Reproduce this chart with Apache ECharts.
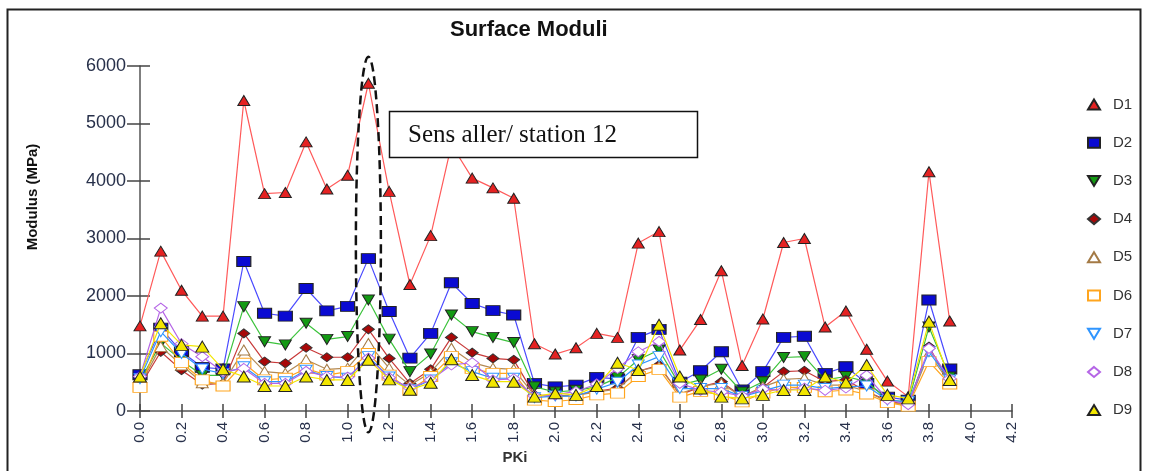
<!DOCTYPE html>
<html>
<head>
<meta charset="utf-8">
<script src="https://cdn.jsdelivr.net/npm/echarts@6/dist/echarts.min.js"></script>
<style>
html,body{margin:0;padding:0;background:#fff;}
#c{width:1151px;height:471px;}
</style>
</head>
<body>
<div id="c"></div>
<script>
// ---- data ----
const pki = [0.0,0.1,0.2,0.3,0.4,0.5,0.6,0.7,0.8,0.9,1.0,1.1,1.2,1.3,1.4,1.5,1.6,1.7,1.8,1.9,
             2.0,2.1,2.2,2.3,2.4,2.5,2.6,2.7,2.8,2.9,3.0,3.1,3.2,3.3,3.4,3.5,3.6,3.7,3.8,3.9];
const D1 = [1480,2780,2100,1650,1650,5400,3780,3800,4680,3860,4100,5700,3820,2200,3050,4630,4050,3880,3700,1170,
            990,1100,1350,1280,2920,3120,1060,1590,2440,790,1600,2930,3000,1460,1740,1075,520,250,4160,1565];
const D2 = [630,1440,1030,760,730,2600,1700,1650,2130,1740,1820,2650,1730,920,1350,2230,1870,1745,1670,480,
            420,450,585,560,1280,1420,500,700,1030,365,684,1280,1300,655,770,480,240,190,1930,730];
const D3 = [520,1180,880,620,620,1815,1205,1150,1525,1245,1295,1930,1250,685,990,1670,1380,1280,1190,420,
            330,360,420,580,890,1060,450,540,725,330,510,930,945,540,600,510,200,150,1460,590];
const D4 = [430,1030,710,460,480,1350,860,830,1100,935,935,1420,915,480,725,1280,1015,915,890,280,
            260,280,340,400,690,800,280,420,510,250,410,685,700,510,540,340,180,105,1120,480];
const D5 = [450,1120,800,490,480,1060,685,655,890,725,745,1175,745,450,670,1090,840,745,725,270,
            250,270,330,380,700,770,300,430,480,250,420,550,570,450,450,340,160,100,1000,490];
const D6 = [410,1300,840,540,435,830,540,570,740,625,685,1000,625,365,600,945,740,655,655,190,
            165,200,280,310,600,725,240,340,280,160,310,410,410,335,365,295,145,85,860,470];
const D7 = [560,1380,1000,730,650,770,510,510,710,600,570,945,590,370,540,840,685,570,570,230,
            260,260,380,500,800,945,390,390,390,250,350,450,450,390,420,435,190,160,1030,540];
const D8 = [600,1790,1170,945,680,740,480,480,690,600,590,920,580,400,540,800,840,540,560,260,
            280,340,470,740,1030,1210,480,360,330,260,380,360,400,360,400,620,200,110,1090,560];
const D9 = [600,1525,1150,1120,725,600,435,435,600,540,540,890,550,370,490,900,625,510,510,250,
            310,280,435,840,713,1500,600,390,250,220,280,365,365,600,495,800,280,220,1555,540];
const seriesNames = ['D1','D2','D3','D4','D5','D6','D7','D8','D9'];
const seriesValues = [D1,D2,D3,D4,D5,D6,D7,D8,D9];
const xTicks = {min:0, max:4.2, interval:0.2};
const yTicks = {min:0, max:6000, interval:1000};

// ---- styles ----
const DOWN = 'path://M0,0L12,0L6,10Z';
const styles = [
  {line:'#ff5a5a', fill:'#e52222', border:'#222', symbol:'triangle', size:[12,10]},
  {line:'#4a4aff', fill:'#0a0ad2', border:'#222', symbol:'rect', size:[14,10]},
  {line:'#3cc33c', fill:'#139a13', border:'#222', symbol:DOWN, size:[12,10]},
  {line:'#c83a3a', fill:'#a80808', border:'#333', symbol:'diamond', size:[12,9]},
  {line:'#b48a55', fill:'#ffffff', border:'#a47a45', symbol:'triangle', size:[12,10]},
  {line:'#ffa51e', fill:'#ffffff', border:'#ffa51e', symbol:'rect', size:[14,10]},
  {line:'#2f95ff', fill:'#ffffff', border:'#2f95ff', symbol:DOWN, size:[12,10]},
  {line:'#b565e6', fill:'#ffffff', border:'#b565e6', symbol:'diamond', size:[13,10]},
  {line:'#f2e600', fill:'#f2e600', border:'#222', symbol:'triangle', size:[13,11]}
];

const chart = echarts.init(document.getElementById('c'), null, {renderer:'canvas'});
const FONT = 'Liberation Sans, Arial, sans-serif';

const series = seriesNames.map((n,i)=>({
  name:n, type:'line', xAxisIndex:0, yAxisIndex:0,
  data: pki.map((x,j)=>[x, seriesValues[i][j]]),
  symbol: styles[i].symbol, symbolSize: styles[i].size, showAllSymbol:true,
  lineStyle:{color:styles[i].line, width:1.2},
  itemStyle:{color:styles[i].fill, borderColor:styles[i].border, borderWidth:1},
  emphasis:{disabled:true}, animation:false, z:2+i
}));

const legends = seriesNames.map((n,i)=>({
  data:[{name:n, icon:styles[i].symbol}],
  left:1087, top: 97 + i*38.2,
  orient:'vertical', itemWidth:12, itemHeight:10, padding:0,
  selectedMode:false,
  textStyle:{fontFamily:FONT, fontSize:15, color:'#333', padding:[0,0,0,8], lineHeight:10}
}));

const axisCommonX = {type:'value', min:xTicks.min, max:xTicks.max, interval:xTicks.interval, position:'bottom'};
const axisCommonY = {type:'value', min:yTicks.min, max:yTicks.max, interval:yTicks.interval, position:'left'};

chart.setOption({
  backgroundColor:'#fff',
  animation:false,
  title:{text:'Surface Moduli', left:445, top:14,
    textStyle:{fontFamily:FONT, fontSize:22, fontWeight:'bold', color:'#111'}},
  grid:{left:140, right:139, top:66, bottom:60, containLabel:false},
  legend: legends,
  xAxis:[
    Object.assign({}, axisCommonX, {
      axisLine:{show:true, lineStyle:{color:'#555', width:1.5}},
      axisTick:{show:true, length:7, lineStyle:{color:'#444', width:1.5}},
      axisLabel:{rotate:90, margin:11, fontFamily:FONT, fontSize:15, color:'#27304a',
        formatter:v=>v.toFixed(1)},
      splitLine:{show:false}
    }),
    Object.assign({}, axisCommonX, {
      axisLine:{show:false},
      axisTick:{show:true, inside:true, length:7, lineStyle:{color:'#444', width:1.5}},
      axisLabel:{show:false}, splitLine:{show:false}
    })
  ],
  yAxis:[
    Object.assign({}, axisCommonY, {
      axisLine:{show:true, lineStyle:{color:'#555', width:1.5}},
      axisTick:{show:true, length:13, lineStyle:{color:'#444', width:1.5}},
      axisLabel:{margin:14, fontFamily:FONT, fontSize:18, color:'#27304a',
        formatter:v=>String(Math.round(v))},
      splitLine:{show:false}
    }),
    Object.assign({}, axisCommonY, {
      axisLine:{show:false},
      axisTick:{show:true, inside:true, length:10, lineStyle:{color:'#444', width:1.5}},
      axisLabel:{show:false}, splitLine:{show:false}
    })
  ],
  series: series
});

// annotations positioned from the axis scale
const pTop = chart.convertToPixel({xAxisIndex:0, yAxisIndex:0}, [1.1, 6160]);
const pBot = chart.convertToPixel({xAxisIndex:0, yAxisIndex:0}, [1.1, -370]);
chart.setOption({
  graphic:[
    {type:'rect', shape:{x:7.5, y:9.5, width:1133, height:470}, style:{fill:'none', stroke:'#222', lineWidth:2}, silent:true, z:0},
    {type:'text', x:33, y:197, rotation:Math.PI/2,
      style:{text:'Modulus (MPa)', fontFamily:FONT, fontSize:15, fontWeight:'bold', fill:'#111', align:'center', verticalAlign:'middle'}},
    {type:'text', x:515, y:458,
      style:{text:'PKi', fontFamily:FONT, fontSize:15, fontWeight:'bold', fill:'#333', align:'center', verticalAlign:'middle'}},
    {type:'ellipse', shape:{cx:pTop[0], cy:(pTop[1]+pBot[1])/2, rx:12.5, ry:(pBot[1]-pTop[1])/2},
      style:{fill:'none', stroke:'#111', lineWidth:2.5, lineDash:[9,5]}, z:50, silent:true},
    {type:'rect', shape:{x:389.5, y:111.5, width:308, height:46},
      style:{fill:'#fff', stroke:'#111', lineWidth:1.5}, z:60, silent:true},
    {type:'text', x:408, y:135, z:61,
      style:{text:'Sens aller/ station 12', fontFamily:'Liberation Serif, Times New Roman, serif', fontSize:25, fill:'#111', align:'left', verticalAlign:'middle'}}
  ]
});
</script>
</body>
</html>
